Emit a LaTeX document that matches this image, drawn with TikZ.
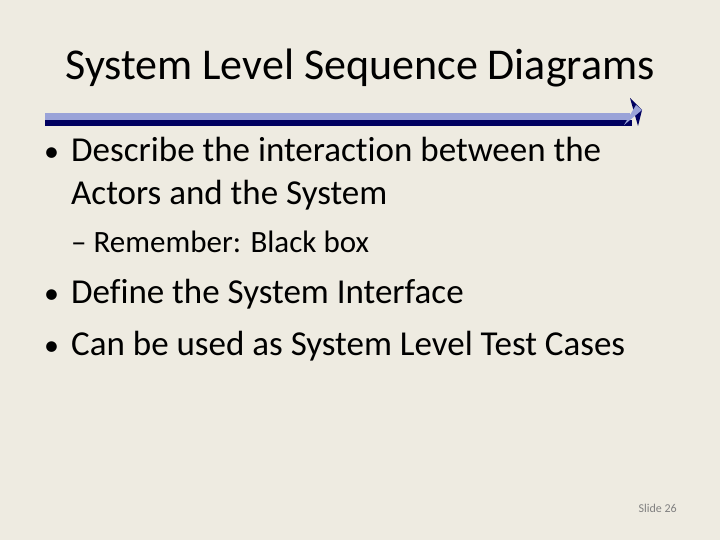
\documentclass[tikz,border=0pt]{standalone}
\usepackage{fontspec}
\setmainfont{Carlito}[Ligatures=NoCommon]
\definecolor{bg}{HTML}{EEEBE1}
\definecolor{lightb}{HTML}{9AA3D8}
\definecolor{darkb}{HTML}{000060}
\begin{document}
\begin{tikzpicture}[x=1pt,y=-1pt,
  txt/.style={anchor=base west,inner sep=0pt,font=\fontsize{35}{40}\selectfont,text=black},
  bul/.style={anchor=base west,inner sep=0pt,font=\fontsize{30}{34}\selectfont,text=black}]
\fill[bg] (0,0) rectangle (720,540);
\useasboundingbox (0,0) rectangle (720,540);
\node[anchor=base,inner sep=0pt,font=\fontsize{44}{48}\selectfont] (title) at (360,80) {System Level Sequence Diagrams};
\fill[lightb] (45,113) rectangle (630,120);
\fill[darkb] (45,120) rectangle (632,126);
\fill[darkb] (630,98) -- (642,110) -- (638,126) -- cycle;
\fill[lightb] (624,125) -- (636,105) -- (642,110) -- cycle;
\node[bul] (b1) at (44,162) {•};
\node[txt] (t1) at (71,162) {Describe the interaction between the};
\node[txt] (t1b) at (71,205) {Actors and the System};
\node[txt,font=\fontsize{31}{34}\selectfont] (t2) at (71,252) {– Remember: Black box};
\node[bul] (b3) at (44,303) {•};
\node[txt] (t3) at (71,303) {Define the System Interface};
\node[bul] (b4) at (44,355) {•};
\node[txt] (t4) at (71,355) {Can be used as System Level Test Cases};
\node[anchor=base east,inner sep=0pt,font=\fontsize{12}{14}\selectfont,text=gray] (sl) at (677,512) {Slide 26};
\end{tikzpicture}
\end{document}
